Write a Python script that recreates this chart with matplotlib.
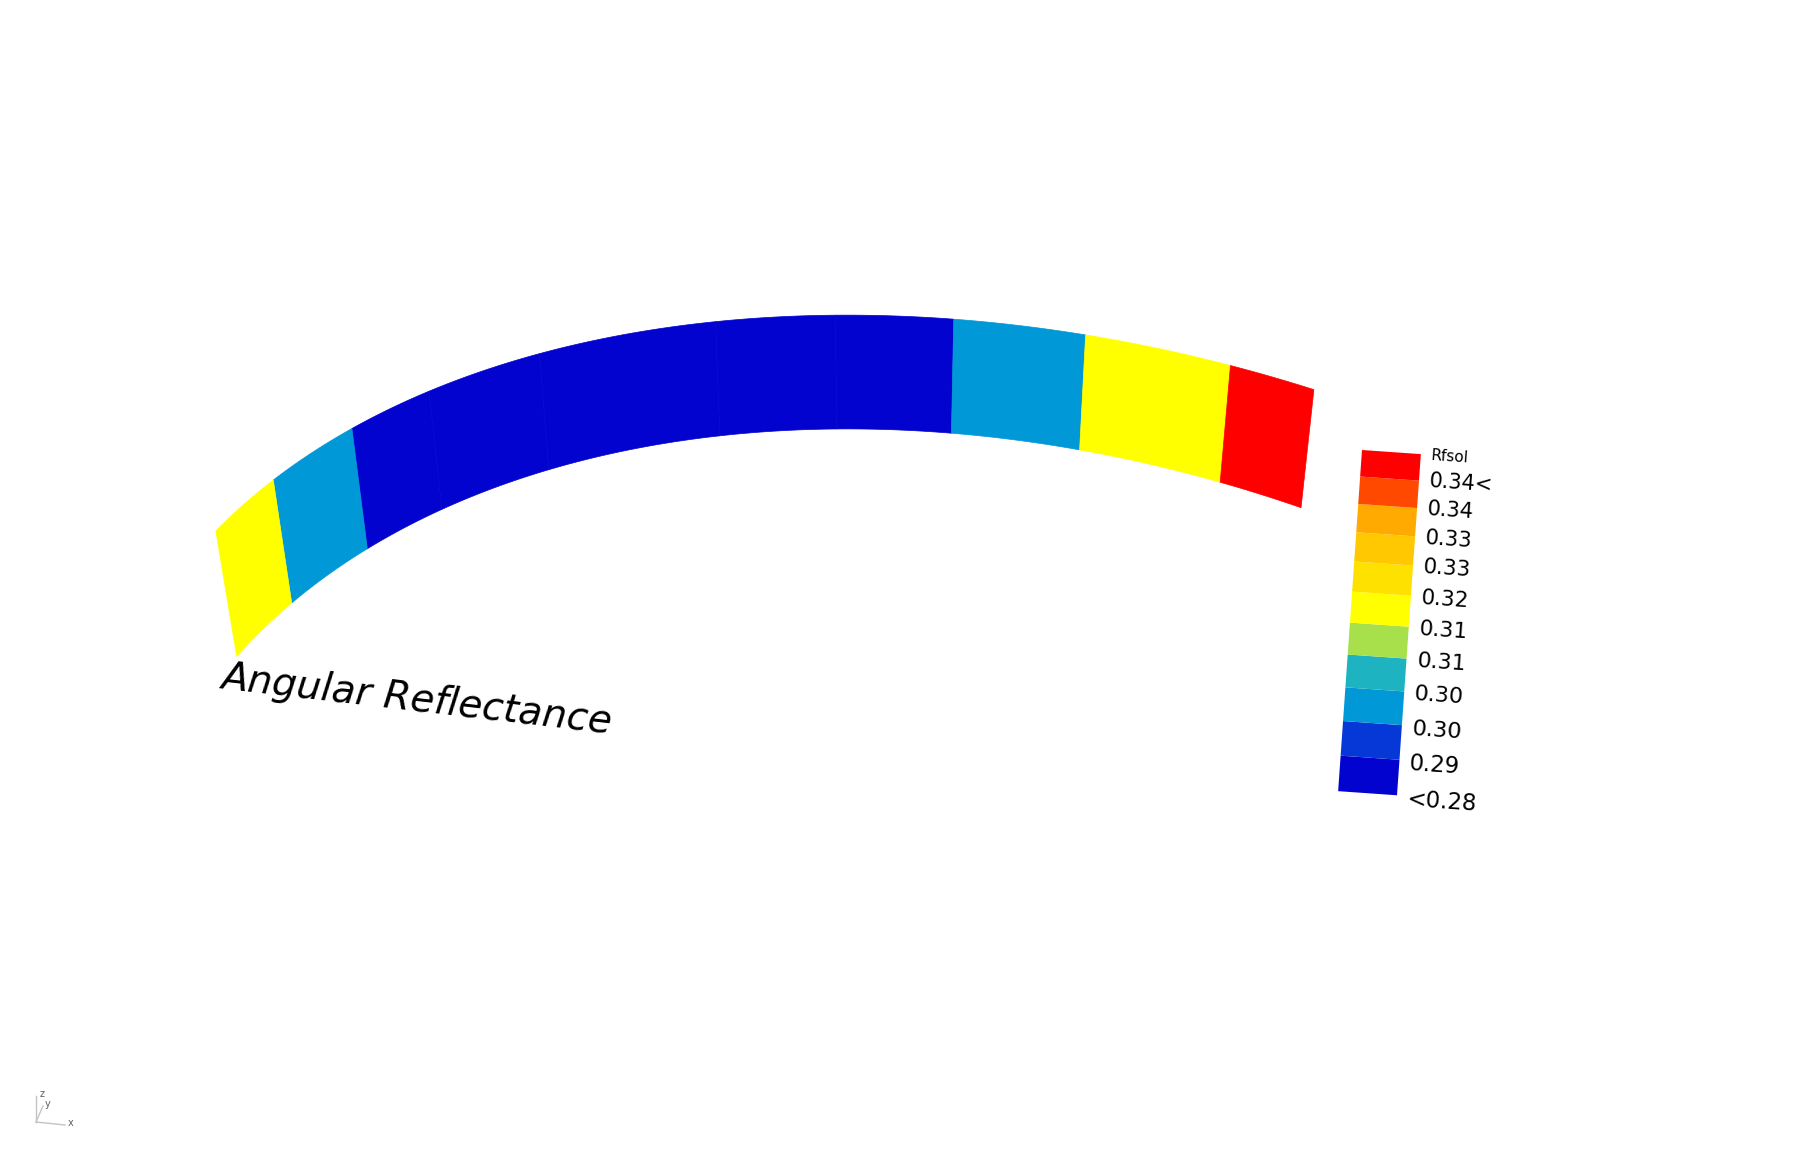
import numpy as np
import matplotlib
matplotlib.use("Agg")
import matplotlib.pyplot as plt
from matplotlib.colors import ListedColormap, BoundaryNorm
from matplotlib.transforms import Affine2D
from mpl_toolkits.mplot3d.art3d import Poly3DCollection

# arc segments: edge angles in degrees (0 = far side of the ring) and Rfsol per segment
seg_edges = [-63.75, -56.04, -46.75, -38.46, -27.50, -11.36, -0.96, 8.96, 19.76, 31.41, 38.07]
rfsol = [0.311, 0.293, 0.275, 0.275, 0.275, 0.275, 0.275, 0.293, 0.311, 0.345]

# legend (bottom to top)
legend_colors = ['#0303d0', '#0538d6', '#0098d6', '#1eb3c0', '#a8e04b', '#ffff00',
                 '#ffe100', '#ffc800', '#ffaa00', '#ff4800', '#ff0000']
legend_bounds = [0.26, 0.284, 0.290, 0.296, 0.302, 0.308, 0.314, 0.320, 0.326,
                 0.332, 0.338, 0.36]
legend_labels = ['<0.28', '0.29', '0.30', '0.30', '0.31', '0.31', '0.32', '0.33',
                 '0.33', '0.34', '0.34<']
legend_title = 'Rfsol'
title = 'Angular Reflectance'

cmap = ListedColormap(legend_colors)
norm = BoundaryNorm(legend_bounds, cmap.N)

W, H = 1795, 1158
fig = plt.figure(figsize=(W / 100, H / 100), dpi=100)

# --- the arc: a slightly conical wall (radius 1 at the top) seen in perspective ---
wall_h, r_bot = 0.164, 0.9712
elev = 8.114
target = (-0.672, 10.9733, 0.1)    # point the camera looks at
dist, focal_px = 13.6963, 2573.66  # camera distance (data units), focal length (px)
pp = (393.29, 1750.17)             # principal point (px from bottom left)

f = 1.0
r = 1.1002 * dist / (10 * f)
S = 0.185 * focal_px / f
ax = fig.add_axes([(pp[0] - 0.5135 * S) / W, (pp[1] - 0.5135 * S) / H, S / W, S / H],
                  projection='3d')
ax.set_proj_type('persp', focal_length=f)
ax.view_init(elev=elev, azim=-90)
ax.set_box_aspect((1, 1, 1))
ax.set_xlim(target[0] - r / 2, target[0] + r / 2)
ax.set_ylim(target[1] - r / 2, target[1] + r / 2)
ax.set_zlim(target[2] - r / 2, target[2] + r / 2)
ax.set_axis_off()
ax.patch.set_alpha(0)

polys = []
for a0, a1 in zip(seg_edges[:-1], seg_edges[1:]):
    t = np.radians(np.linspace(a0, a1, 30))
    top = np.column_stack([np.sin(t), np.cos(t), np.full_like(t, wall_h)])
    bot = np.column_stack([r_bot * np.sin(t), r_bot * np.cos(t), np.zeros_like(t)])[::-1]
    polys.append(np.vstack([top, bot]))

cols = cmap(norm(rfsol))
pc = Poly3DCollection(polys, facecolors=cols, edgecolors=cols, linewidths=0.5)
ax.add_collection3d(pc)
pc.set_clip_on(False)

# --- overlay in pixel units for title and axis icon ---
ov = fig.add_axes([0, 0, 1, 1])
ov.set_xlim(0, W)
ov.set_ylim(H, 0)
ov.patch.set_alpha(0)
ov.axis('off')

ov.text(220, 688, title, fontsize=28, style='italic', rotation=-6.6,
        rotation_mode='anchor', ha='left', va='baseline', color='black')

# small xyz icon
o = (36, 1122)
for end in [(36, 1096), (43, 1106), (65, 1125)]:
    ov.plot([o[0], end[0]], [o[1], end[1]], color='#c4c4c4', lw=1)
ov.text(42, 1094, 'z', fontsize=7, color='#606060', ha='center', va='center')
ov.text(48, 1104, 'y', fontsize=7, color='#606060', ha='center', va='center')
ov.text(71, 1123, 'x', fontsize=7, color='#606060', ha='center', va='center')

# --- legend: cells get taller toward the bottom (perspective) ---
lx0, ly0, lw, lh = 1362, 450, 59, 342
lx = fig.add_axes([lx0 / W, (H - ly0 - lh) / H, lw / W, lh / H])
lx.set_yscale('function', functions=(lambda v: 36 * v - 0.45 * v ** 2,
                                     lambda p: (36 - np.sqrt(np.clip(1296 - 1.8 * p, 0, None))) / 0.9))
lx.set_xlim(0, 1)
lx.set_ylim(0, 11)
lx.axis('off')
rot = lx.transData + Affine2D().rotate_deg_around(lx0, H - ly0, -4)

for i, c in enumerate(legend_colors):
    lx.bar(0.5, 1, bottom=i, width=1, color=c, transform=rot, clip_on=False)
for i, lab in enumerate(legend_labels):
    lx.text(1.17, i * 1.01 - 0.1, lab, fontsize=16.5 - 0.15 * i,
            ha='left', va='center', rotation=-4, rotation_mode='anchor',
            transform=rot, clip_on=False)
lx.text(1.17, 10.97, legend_title, fontsize=11, ha='left', va='center',
        rotation=-4, rotation_mode='anchor', transform=rot, clip_on=False)

fig.savefig('out.png', dpi=100)
